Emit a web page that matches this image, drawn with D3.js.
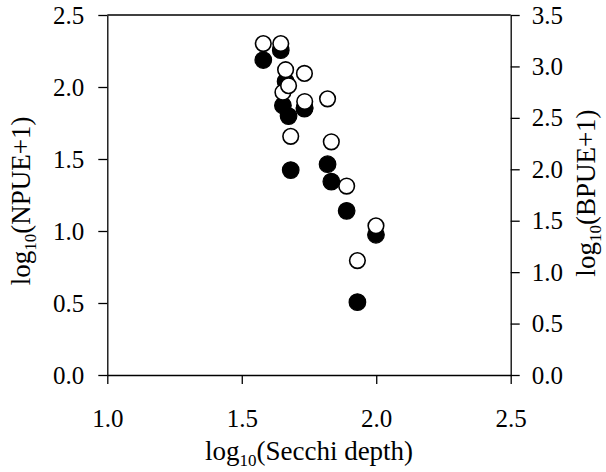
<!DOCTYPE html>
<html>
<head>
<meta charset="utf-8">
<title>NPUE BPUE vs Secchi</title>
<script src="https://cdn.jsdelivr.net/npm/d3@7"></script>
<style>
  body { margin: 0; background: #fff; }
  svg text { font-family: 'Times New Roman', 'Liberation Serif', Tinos, 'DejaVu Serif', serif; fill: #000; }
</style>
</head>
<body>
<script>
// log10 Secchi depth, with matching log10(NPUE+1) and log10(BPUE+1)
var secchi = [1.580, 1.645, 1.663, 1.653, 1.674, 1.734, 1.733, 1.819, 1.682, 1.833, 1.890, 1.999, 1.930];
var npue   = [2.187, 2.256, 2.039, 1.872, 1.798, 1.856, 1.850, 1.464, 1.423, 1.343, 1.140, 0.974, 0.506];
var bpue   = [3.222, 3.222, 2.968, 2.749, 2.813, 2.659, 2.932, 2.685, 2.320, 2.267, 1.837, 1.450, 1.112];

var xTicks = [1.0, 1.5, 2.0, 2.5];
var leftTicks = [0.0, 0.5, 1.0, 1.5, 2.0, 2.5];
var rightTicks = [0.0, 0.5, 1.0, 1.5, 2.0, 2.5, 3.0, 3.5];

var width = 606, height = 472;
var x0 = 107.3, x1 = 510.7, y0 = 375, y1 = 15;
var serif = "'Times New Roman', 'Liberation Serif', Tinos, 'DejaVu Serif', serif";

var svg = d3.select("body").append("svg")
  .attr("width", width)
  .attr("height", height);

var x = d3.scaleLinear().domain([1.0, 2.5]).range([x0, x1]);
var yL = d3.scaleLinear().domain([0, 2.5]).range([y0, y1]);
var yR = d3.scaleLinear().domain([0, 3.5]).range([y0, y1]);

function styleAxis(g){
  g.attr("font-family", null).attr("font-size", null);
  g.selectAll("path, line").attr("stroke", "#000").attr("stroke-width", 1.3);
  g.selectAll("text").style("font-size", "25px").style("font-family", serif);
}

svg.append("g")
  .attr("transform", "translate(0," + y0 + ")")
  .call(d3.axisBottom(x).tickValues(xTicks).tickFormat(d3.format(".1f")).tickSize(9).tickSizeOuter(0).tickPadding(25))
  .call(styleAxis);

svg.append("g")
  .attr("transform", "translate(" + x0 + ",0)")
  .call(d3.axisLeft(yL).tickValues(leftTicks).tickFormat(d3.format(".1f")).tickSize(9).tickSizeOuter(0).tickPadding(14))
  .call(styleAxis);

svg.append("g")
  .attr("transform", "translate(" + x1 + ",0)")
  .call(d3.axisRight(yR).tickValues(rightTicks).tickFormat(d3.format(".1f")).tickSize(9).tickSizeOuter(0).tickPadding(12))
  .call(styleAxis);

// top frame line
svg.append("line")
  .attr("x1", x0).attr("x2", x1)
  .attr("y1", y1).attr("y2", y1)
  .attr("stroke", "#000").attr("stroke-width", 1.3);

var data = secchi.map(function(d, i){ return {s: d, n: npue[i], b: bpue[i]}; });

// filled = NPUE (left axis)
svg.append("g").selectAll("circle")
  .data(data)
  .enter()
  .append("circle")
  .attr("cx", function(d){ return x(d.s); })
  .attr("cy", function(d){ return yL(d.n); })
  .attr("r", 8.3)
  .attr("fill", "#000")
  .attr("stroke", "#000")
  .attr("stroke-width", 1.2);

// open = BPUE (right axis)
svg.append("g").selectAll("circle")
  .data(data)
  .enter()
  .append("circle")
  .attr("cx", function(d){ return x(d.s); })
  .attr("cy", function(d){ return yR(d.b); })
  .attr("r", 7.8)
  .attr("fill", "#fff")
  .attr("stroke", "#000")
  .attr("stroke-width", 1.6);

function addTitle(g, main){
  var t = g.append("text")
    .attr("text-anchor", "middle")
    .style("font-family", serif)
    .style("font-size", "27px");
  t.append("tspan").text("log");
  t.append("tspan").style("font-size", "17px").attr("dy", 6).text("10");
  t.append("tspan").attr("dy", -6).text(main);
}

addTitle(svg.append("g").attr("transform", "translate(309,460)"), "(Secchi depth)");
addTitle(svg.append("g").attr("transform", "translate(30,201) rotate(-90)"), "(NPUE+1)");
addTitle(svg.append("g").attr("transform", "translate(595,193) rotate(-90)"), "(BPUE+1)");
</script>
</body>
</html>
